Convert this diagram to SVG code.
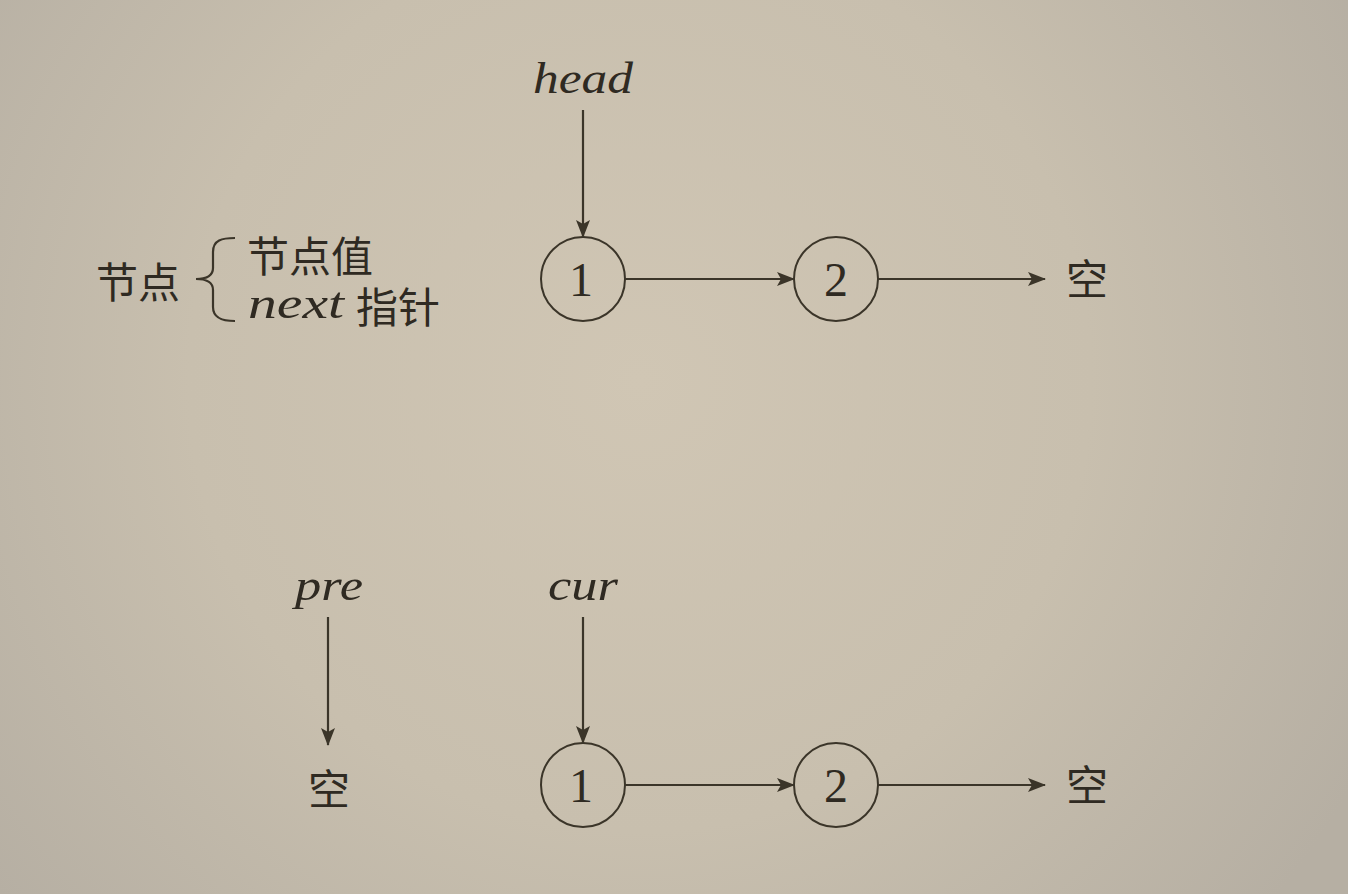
<svg xmlns="http://www.w3.org/2000/svg" width="1348" height="894" viewBox="0 0 1348 894">
<defs>
<radialGradient id="bg" cx="640" cy="380" r="820" gradientUnits="userSpaceOnUse">
<stop offset="0" stop-color="#d0c6b4"/>
<stop offset="0.55" stop-color="#c8bfae"/>
<stop offset="1" stop-color="#b6afa3"/>
</radialGradient>
<marker id="arr" viewBox="0 0 18 14" refX="17" refY="7" markerWidth="18" markerHeight="14" markerUnits="userSpaceOnUse" orient="auto">
<path d="M0,0 L18,7 L0,14 L4,7 Z" fill="#3b3529"/>
</marker>
<style>
.ln{stroke:#3b3529;stroke-width:2.2;fill:none}
.cir{stroke:#3b3529;stroke-width:2;fill:none}
.it{font-family:"Liberation Serif","DejaVu Serif",serif;font-style:italic;font-size:44px;fill:#2f2a22;text-anchor:middle}
.num{font-family:"Liberation Serif","DejaVu Serif",serif;font-size:48px;fill:#2f2a22;text-anchor:middle}
.cjk{font-family:"Liberation Sans","Noto Sans CJK SC",sans-serif;font-size:42px;fill:#2f2a22}
</style>
</defs>
<rect width="1348" height="894" fill="url(#bg)"/>

<g id="legend">
<text class="cjk" x="96" y="298">节点</text>
<path class="ln" d="M235,238 C222,238 213,240 213,252 L213,268 C213,276 206,279 196,279 C206,279 213,282 213,290 L213,307 C213,318 222,321 235,321"/>
<text class="cjk" x="247" y="272">节点值</text>
<text class="it" x="296" y="318" textLength="96" lengthAdjust="spacingAndGlyphs">next</text>
<text class="cjk" x="356" y="323">指针</text>
</g>

<g id="head-label"><text class="it" x="583" y="93" textLength="100" lengthAdjust="spacingAndGlyphs">head</text></g>
<g id="top-node1"><circle class="cir" cx="583" cy="279" r="42"/><text class="num" x="581" y="296">1</text></g>
<g id="top-node2"><circle class="cir" cx="836" cy="279" r="42"/><text class="num" x="836" y="296">2</text></g>
<g id="top-null"><text class="cjk" x="1066" y="295">空</text></g>

<g id="pre-label"><text class="it" x="329" y="600" textLength="68" lengthAdjust="spacingAndGlyphs">pre</text></g>
<g id="pre-null"><text class="cjk" x="308" y="805">空</text></g>
<g id="cur-label"><text class="it" x="583" y="600" textLength="70" lengthAdjust="spacingAndGlyphs">cur</text></g>
<g id="bot-node1"><circle class="cir" cx="583" cy="785" r="42"/><text class="num" x="581" y="802">1</text></g>
<g id="bot-node2"><circle class="cir" cx="836" cy="785" r="42"/><text class="num" x="836" y="802">2</text></g>
<g id="bot-null"><text class="cjk" x="1066" y="801">空</text></g>

<g id="connectors">
<line class="ln" x1="583" y1="110" x2="583" y2="237" marker-end="url(#arr)"/>
<line class="ln" x1="625" y1="279" x2="794" y2="279" marker-end="url(#arr)"/>
<line class="ln" x1="878" y1="279" x2="1045" y2="279" marker-end="url(#arr)"/>
<line class="ln" x1="328" y1="617" x2="328" y2="745" marker-end="url(#arr)"/>
<line class="ln" x1="583" y1="617" x2="583" y2="743" marker-end="url(#arr)"/>
<line class="ln" x1="625" y1="785" x2="794" y2="785" marker-end="url(#arr)"/>
<line class="ln" x1="878" y1="785" x2="1045" y2="785" marker-end="url(#arr)"/>
</g>
</svg>
